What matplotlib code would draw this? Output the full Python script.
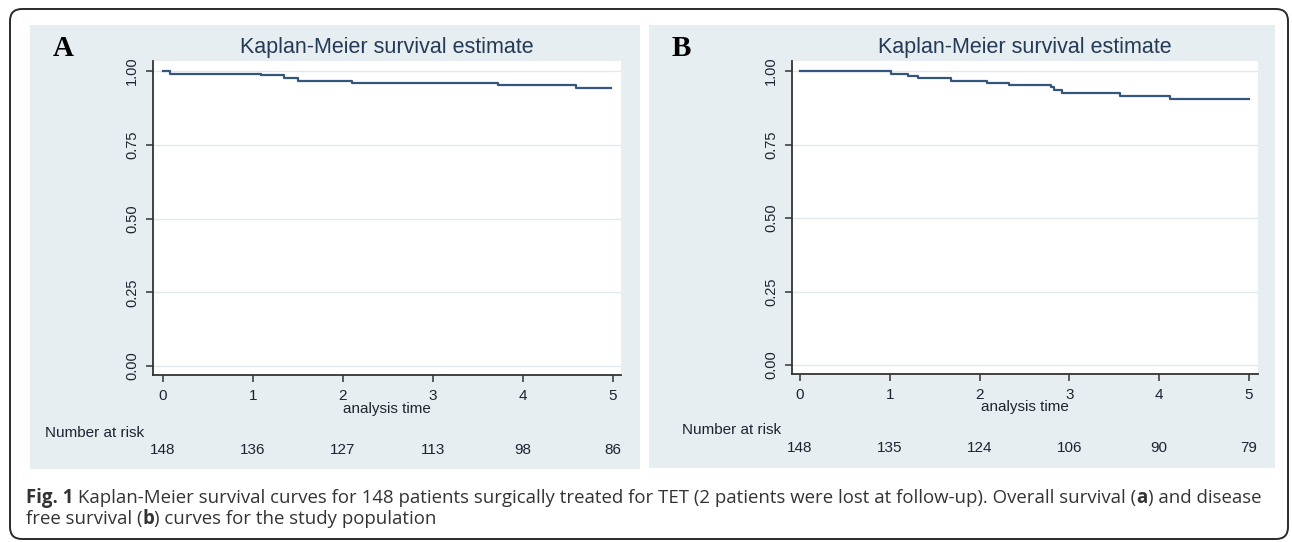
import matplotlib
matplotlib.use("Agg")
import matplotlib.pyplot as plt
from matplotlib.patches import Rectangle, FancyBboxPatch
from matplotlib.transforms import IdentityTransform, blended_transform_factory

# Kaplan-Meier estimates (time in years, survival)
time_a = [0, 0.08, 1.09, 1.34, 1.50, 2.10, 3.72, 4.59, 4.98]
surv_a = [1.0, 0.990, 0.985, 0.975, 0.966, 0.961, 0.951, 0.941, 0.941]
time_b = [0, 1.01, 1.20, 1.31, 1.68, 2.08, 2.33, 2.80, 2.83, 2.92, 3.56, 4.12, 5.0]
surv_b = [1.0, 0.991, 0.983, 0.977, 0.967, 0.958, 0.952, 0.944, 0.935, 0.926, 0.916, 0.905, 0.905]

risk_times = [0, 1, 2, 3, 4, 5]
risk_a = [148, 136, 127, 113, 98, 86]
risk_b = [148, 135, 124, 106, 90, 79]

y_ticks = [0, 0.25, 0.5, 0.75, 1.0]
y_labels = ["0.00", "0.25", "0.50", "0.75", "1.00"]
title = "Kaplan-Meier survival estimate"

W, H = 1292, 542
STATA = ["Liberation Sans", "DejaVu Sans"]
CAPT = ["Open Sans", "DejaVu Sans"]
BG = "#e7eef1"
LINE = "#34567a"
TXT = "#1d2430"

fig = plt.figure(figsize=(W / 100, H / 100), dpi=100)
fig.patch.set_facecolor("white")

# outer rounded frame
fig.patches.append(FancyBboxPatch((10, 3), 1278, 530, boxstyle="round,pad=0,rounding_size=12",
                                  transform=IdentityTransform(), fill=False, ec="#2a2a2a", lw=1.4))


def px(x0, y0, x1, y1):
    # pixel box (top-left origin) -> figure fraction [l, b, w, h]
    return [x0 / W, 1 - y1 / H, (x1 - x0) / W, (y1 - y0) / H]


def panel(box, axbox, xlim, times, surv, risk, letter, risk_y, nar_x, nar_y):
    l, b, w, h = px(*box)
    fig.patches.append(Rectangle((l, b), w, h, transform=fig.transFigure, fc=BG, ec="none", zorder=0))
    ax = fig.add_axes(px(*axbox))
    ax.set_zorder(2)
    ax.set_facecolor("white")
    ax.step(times, surv, where="post", color=LINE, lw=1.6, zorder=3)
    ax.set_xlim(*xlim)
    ax.set_ylim(-0.0305, 1.034)
    ax.set_yticks(y_ticks)
    ax.set_yticklabels(y_labels, rotation=90, va="center", fontsize=10.5, family=STATA, color=TXT)
    ax.set_xticks(risk_times)
    ax.set_xticklabels([str(t) for t in risk_times], fontsize=11, family=STATA, color=TXT)
    ax.grid(axis="y", color="#e0e9ee", lw=1.0)
    ax.set_axisbelow(True)
    for s in ["top", "right"]:
        ax.spines[s].set_visible(False)
    for s in ["left", "bottom"]:
        ax.spines[s].set_color("#333333")
        ax.spines[s].set_linewidth(1.3)
    ax.tick_params(length=5, width=1.1, color="#333333", pad=5)
    ax.set_title(title, fontsize=15.5, family=STATA, color="#253a55", pad=6)
    ax.set_xlabel("analysis time", fontsize=11, family=STATA, color=TXT, labelpad=-1)
    fig.text(box[0] + 23, H - 48, letter, transform=IdentityTransform(), fontsize=21,
             family="Liberation Serif", weight="bold", va="center", ha="left", color="black")
    fig.text(nar_x, H - nar_y, "Number at risk", transform=IdentityTransform(), fontsize=11,
             family=STATA, color=TXT, va="center", ha="left")
    tr = blended_transform_factory(ax.transData, IdentityTransform())
    for t, n in zip(risk_times, risk):
        ax.text(t, H - risk_y, str(n), transform=tr, fontsize=11, family=STATA,
                color=TXT, ha="center", va="center", clip_on=False)
    return ax


panel((30, 25, 640, 469), (153, 61, 621, 375), (-0.111, 5.089), time_a, surv_a, risk_a, "A", 450, 45, 433)
panel((649, 25, 1275, 468), (792, 61, 1258, 374), (-0.09, 5.1), time_b, surv_b, risk_b, "B", 448, 682, 430)

# caption with mixed bold / regular pieces
renderer = fig.canvas.get_renderer()


def caption_line(x, y, pieces):
    for s, wgt in pieces:
        t = fig.text(x, H - y, s, transform=IdentityTransform(), fontsize=13.4, family=CAPT,
                     weight=wgt, color="#333333", va="baseline", ha="left")
        x += t.get_window_extent(renderer).width


caption_line(26, 503, [("Fig. 1", "bold"),
                       (" Kaplan-Meier survival curves for 148 patients surgically treated for TET (2 patients were "
                        "lost at follow-up). Overall survival (", "normal"),
                       ("a", "bold"), (") and disease", "normal")])
caption_line(26, 524, [("free survival (", "normal"), ("b", "bold"),
                       (") curves for the study population", "normal")])

fig.savefig("out.png", dpi=100)
